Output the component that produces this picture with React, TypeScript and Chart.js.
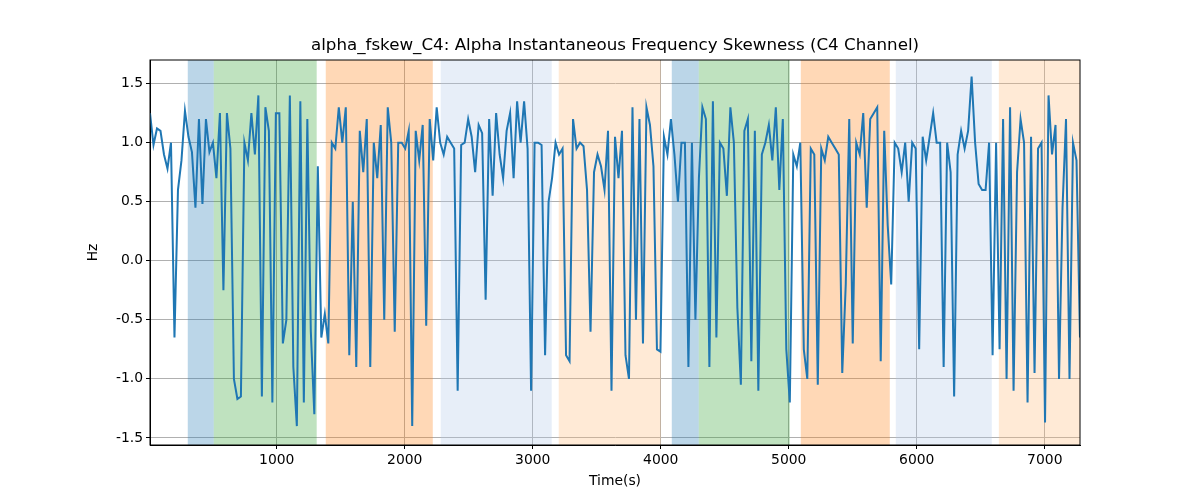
import React, { useEffect, useRef } from "react";
import { Chart, registerables } from "chart.js";
Chart.register(...registerables);

const T_START = 10;
const T_END = 7275;
const values: number[] = [
  1.25, 0.98, 1.12, 1.1, 0.9, 0.78, 1.0, -0.65, 0.6, 0.85,
  1.27, 1.05, 0.92, 0.45, 1.2, 0.48, 1.2, 0.92,
  1.0, 0.7, 1.25, -0.25, 1.25, 0.95, -1.0, -1.17, -1.15, 1.0, 0.85, 1.25, 0.9, 1.4, -1.15, 1.3, 1.1, -1.2, 1.25, 1.25, -0.7, -0.5, 1.4, -0.9, -1.4, 1.35, -1.2, 1.2, -0.6,
  -1.3, 0.8, -0.65, -0.45, -0.7,
  1.0, 0.95, 1.3, 1.0, 1.3, -0.8, 0.5, -0.9, 1.1, 0.75, 1.2, -0.9, 1.0, 0.7, 1.15, -0.5, 1.3, 1.0, -0.6, 1.0, 1.0, 0.95, 1.1, -1.4, 1.1, 0.85, 1.15, -0.55, 1.2, 0.85, 1.3, 1.0,
  0.9, 1.05,
  1.0, 0.95, -1.1, 0.98, 1.0, 1.2, 1.05, 0.75, 1.15, 1.08, -0.33, 1.2, 0.55, 1.25, 0.9, 0.7, 1.1, 1.25, 0.7, 1.35, 1.0, 1.35, 0.95, -1.1, 1.0, 1.0, 0.98, -0.8, 0.5,
  0.7, 1.0,
  0.9, 0.95, -0.8, -0.85, 1.2, 0.95, 1.0, 0.97, 0.6, -0.6, 0.75, 0.9, 0.8, 0.6, 1.1, -1.1, 1.05, 0.7, 1.1, -0.8, -1.0, 1.3, -0.5, 1.2, -0.7, 1.3, 1.15,
  0.8, -0.75, -0.77,
  1.05, 0.9, 1.2, 0.9, 0.5, 1.0, 1.0,
  -0.9, 1.0, -0.5, 0.7, 1.3, 1.2, -0.9, 1.35, -0.65, 1.0, 0.95, 0.55, 1.3, 1.0, -0.4, -1.05, 1.1, 1.2, -0.85, 1.1, -1.1, 0.9, 1.0, 1.15, 0.85, 1.3,
  0.6, 1.2, -0.75,
  -1.2, 0.9, 0.8, 1.0, -0.75, -1.0, 0.95, 0.9, -1.05, 0.95, 0.85, 1.05, 1.0, 0.95, 0.9, -0.95, -0.2, 1.2, -0.7, 1.0, 0.9, 1.25, 0.45, 1.2, 1.25,
  1.3, -0.85,
  1.1, 0.3, -0.2, 1.0, 0.95, 0.75, 1.0, 0.5, 1.0, 0.95, -0.75, 1.05, 0.85, 1.05, 1.25, 1.0, 1.0, -0.9, 1.0, 0.75, -1.15, 0.9, 1.1, 0.95, 1.1, 1.56, 1.0,
  0.65, 0.6, 0.6, 1.0, -0.8, 1.0, -0.75, 1.2, -1.0, 1.3, -1.1, 0.75, 1.2, 1.0, -1.2, 1.05, -0.95, 0.95, 1.0, -1.37, 1.4, 0.9, 1.15, -1.0, 0.45, 1.2, -1.0, 1.0, 0.85, -0.65,
];

const bandStarts = [305, 508, 1383, 2281, 3203, 4086, 4297, 5094, 5836, 6641];
const bandEnds = [508, 1312, 2219, 3148, 4000, 4297, 5008, 5789, 6586, 7281];
const bandColors = [
  "rgba(31,119,180,0.3)", "rgba(44,160,44,0.3)", "rgba(255,127,14,0.3)", "rgba(174,199,232,0.3)", "rgba(255,187,120,0.3)",
  "rgba(31,119,180,0.3)", "rgba(44,160,44,0.3)", "rgba(255,127,14,0.3)", "rgba(174,199,232,0.3)", "rgba(255,187,120,0.3)",
];
const xTicks = [1000, 2000, 3000, 4000, 5000, 6000, 7000];
const yTicks = [-1.5, -1.0, -0.5, 0.0, 0.5, 1.0, 1.5];

const FONT = "'DejaVu Sans', sans-serif";

export default function App() {
  const ref = useRef<HTMLCanvasElement>(null);
  useEffect(() => {
    const n = values.length;
    const step = (T_END - T_START) / (n - 1);
    const pts = values.map((v, i) => ({ x: T_START + i * step, y: v }));
    const bands = {
      id: "bands",
      beforeDatasetsDraw(c: any) {
        const { ctx, chartArea: a, scales } = c;
        ctx.save();
        ctx.beginPath();
        ctx.rect(a.left, a.top, a.right - a.left, a.bottom - a.top);
        ctx.clip();
        bandStarts.forEach((s, i) => {
          const x0 = scales.x.getPixelForValue(s);
          const x1 = scales.x.getPixelForValue(bandEnds[i]);
          ctx.fillStyle = bandColors[i];
          ctx.fillRect(x0, a.top, x1 - x0, a.bottom - a.top);
        });
        ctx.restore();
      },
      afterDraw(c: any) {
        const { ctx, chartArea: a } = c;
        ctx.save();
        ctx.strokeStyle = "#000";
        ctx.lineWidth = 1;
        ctx.strokeRect(a.left, a.top, a.right - a.left, a.bottom - a.top);
        ctx.fillStyle = "#000";
        ctx.font = `16.7px ${FONT}`;
        ctx.textAlign = "center";
        ctx.textBaseline = "bottom";
        ctx.fillText("alpha_fskew_C4: Alpha Instantaneous Frequency Skewness (C4 Channel)", (a.left + a.right) / 2, a.top - 6);
        ctx.font = `13.9px ${FONT}`;
        ctx.textBaseline = "middle";
        ctx.fillText("Time(s)", (a.left + a.right) / 2, 481);
        ctx.translate(93, (a.top + a.bottom) / 2);
        ctx.rotate(-Math.PI / 2);
        ctx.fillText("Hz", 0, 0);
        ctx.restore();
      },
    };
    const chart = new Chart(ref.current!, {
      type: "line",
      data: { datasets: [{ data: pts, borderColor: "#1f77b4", borderWidth: 2, pointRadius: 0, tension: 0 }] },
      options: {
        animation: false,
        responsive: false,
        layout: { padding: { top: 60, right: 120, left: 0, bottom: 0 } },
        plugins: { legend: { display: false }, tooltip: { enabled: false } },
        scales: {
          x: {
            type: "linear", min: T_START, max: T_END,
            afterBuildTicks: (s: any) => { s.ticks = xTicks.map((v) => ({ value: v })); },
            afterFit: (s: any) => { s.height = 55; },
            grid: { color: "#b0b0b0", tickColor: "#000", tickLength: 4 },
            border: { color: "#000" },
            ticks: { color: "#000", font: { family: FONT, size: 13.9 }, maxRotation: 0, padding: 3, callback: (v: any) => String(v) },
          },
          y: {
            min: -1.56, max: 1.70,
            afterBuildTicks: (s: any) => { s.ticks = yTicks.map((v) => ({ value: v })); },
            afterFit: (s: any) => { s.width = 150; },
            grid: { color: "#b0b0b0", tickColor: "#000", tickLength: 4 },
            border: { color: "#000" },
            ticks: { color: "#000", font: { family: FONT, size: 13.9 }, padding: 3, callback: (v: any) => Number(v).toFixed(1) },
          },
        },
      },
      plugins: [bands],
    });
    return () => chart.destroy();
  }, []);
  return (
    <div style={{ margin: -8, width: 1200, height: 500, background: "#fff" }}>
      <canvas ref={ref} width={1200} height={500} style={{ width: 1200, height: 500, display: "block" }} />
    </div>
  );
}
